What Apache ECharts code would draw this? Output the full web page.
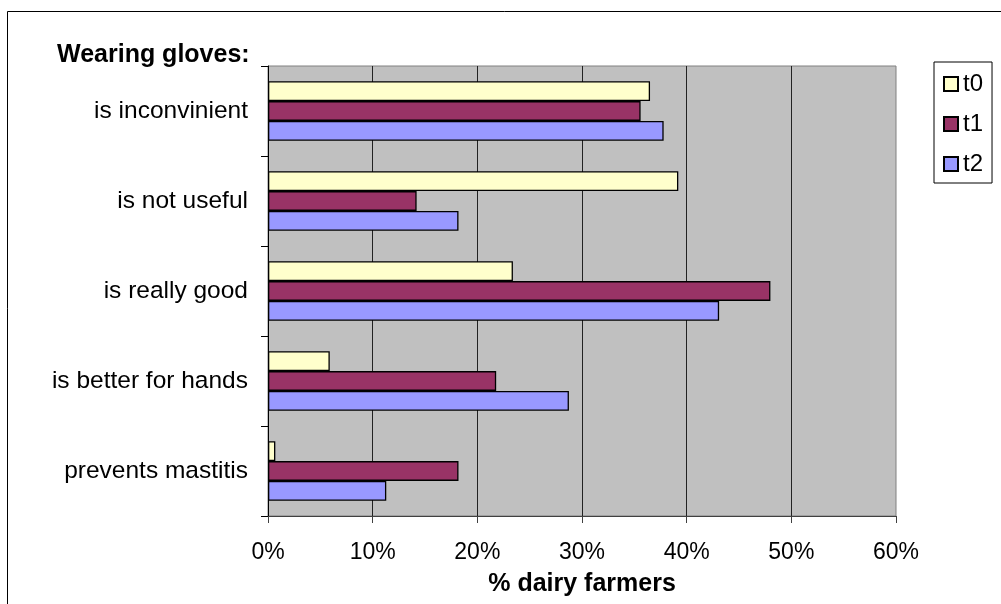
<!DOCTYPE html>
<html>
<head>
<meta charset="utf-8">
<script src="https://cdn.jsdelivr.net/npm/echarts@6/dist/echarts.min.js"></script>
<style>
html, body { margin: 0; padding: 0; background: #fff; }
#chart { width: 1001px; height: 604px; }
</style>
</head>
<body>
<div id="chart"></div>
<script>
// categories, top to bottom
var categories = ['is inconvinient', 'is not useful', 'is really good', 'is better for hands', 'prevents mastitis'];
// % dairy farmers
var t0 = [36.5, 39.2, 23.4, 5.9, 0.7];
var t1 = [35.6, 14.2, 48.0, 21.8, 18.2];
var t2 = [37.8, 18.2, 43.1, 28.75, 11.3];
var xTicks = [0, 10, 20, 30, 40, 50, 60];

var font = '"Liberation Sans", Arial, sans-serif';
var chart = echarts.init(document.getElementById('chart'));

function barSeries(name, data, color) {
    return {
        name: name,
        type: 'bar',
        data: data,
        barGap: '0%',
        barCategoryGap: '34%',
        itemStyle: {
            color: color,
            borderColor: '#000',
            borderWidth: 1.3
        }
    };
}

var option = {
    animation: false,
    backgroundColor: '#fff',
    textStyle: { fontFamily: font },
    title: {
        text: 'Wearing gloves:',
        left: 57,
        top: 43,
        padding: 0,
        textStyle: { fontFamily: font, fontSize: 25, fontWeight: 'bold', color: '#000' }
    },
    legend: {
        orient: 'vertical',
        left: 934,
        top: 62,
        padding: [10, 9, 7, 9],
        itemWidth: 14,
        itemHeight: 14,
        itemGap: 16,
        borderColor: '#000',
        borderWidth: 1,
        backgroundColor: '#fff',
        icon: 'rect',
        textStyle: { fontFamily: font, fontSize: 24, lineHeight: 24, color: '#000' },
        data: ['t0', 't1', 't2']
    },
    grid: {
        left: 268,
        right: 105,
        top: 66,
        bottom: 88,
        show: true,
        backgroundColor: '#C0C0C0',
        borderColor: '#808080',
        borderWidth: 1
    },
    xAxis: {
        type: 'value',
        min: xTicks[0],
        max: xTicks[xTicks.length - 1],
        interval: 10,
        name: '% dairy farmers',
        nameLocation: 'middle',
        nameGap: 56,
        nameTextStyle: { fontFamily: font, fontSize: 25, fontWeight: 'bold', color: '#000' },
        axisLine: { show: true, lineStyle: { color: '#404040', width: 1 } },
        axisTick: { show: true, length: 7, lineStyle: { color: '#404040' } },
        axisLabel: {
            formatter: '{value}%',
            margin: 25,
            fontFamily: font,
            fontSize: 23,
            color: '#000'
        },
        splitLine: {
            show: true,
            showMaxLine: false,
            lineStyle: { color: '#222', width: 1 }
        }
    },
    yAxis: {
        type: 'category',
        data: categories,
        inverse: true,
        axisLine: { show: true, lineStyle: { color: '#000', width: 1 } },
        axisTick: { show: true, length: 7, interval: 0, lineStyle: { color: '#000' } },
        axisLabel: {
            margin: 20,
            fontFamily: font,
            fontSize: 24.5,
            color: '#000'
        },
        splitLine: { show: false }
    },
    series: [
        barSeries('t0', t0, '#FFFFCC'),
        barSeries('t1', t1, '#993366'),
        barSeries('t2', t2, '#9999FF')
    ],
    graphic: [{
        type: 'rect',
        shape: { x: 7.5, y: 11.5, width: 1010, height: 620 },
        style: { fill: null, stroke: '#000', lineWidth: 1 },
        silent: true,
        z: 100
    }]
};

chart.setOption(option);
</script>
</body>
</html>
